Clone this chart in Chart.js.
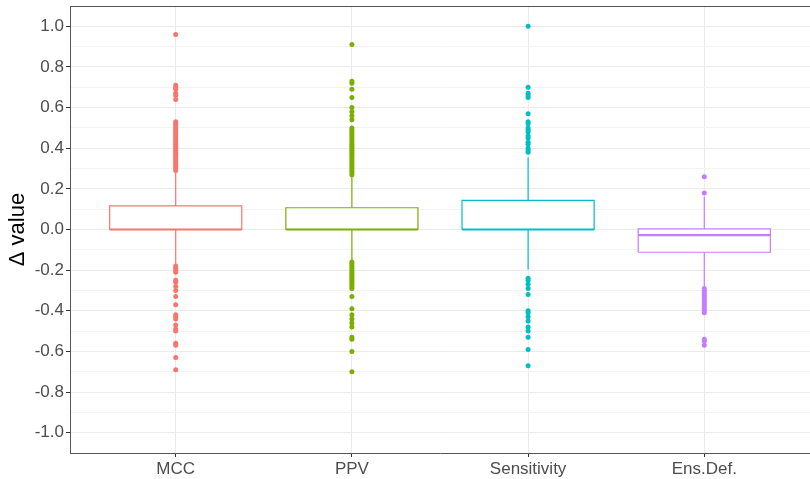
<!DOCTYPE html>
<html>
<head>
<meta charset="utf-8">
<script src="https://cdn.jsdelivr.net/npm/chart.js@4/dist/chart.umd.min.js"></script>
<style>
  html, body { margin: 0; padding: 0; background: #ffffff; }
  #wrap { width: 810px; height: 479px; position: relative; }
</style>
</head>
<body>
<div id="wrap"><canvas id="box_canvas"></canvas></div>
<script>
// categories and box statistics
const categories = ['MCC', 'PPV', 'Sensitivity', 'Ens.Def.'];
const colors = ['#F8766D', '#7CAE00', '#00BFC4', '#C77CFF'];

const boxQ1 = [0.0, 0.0, 0.0, -0.112];
const boxMedian = [0.0, 0.0, 0.0, -0.028];
const boxQ3 = [0.116, 0.107, 0.143, 0.003];
const whiskerLow = [-0.172, -0.156, -0.197, -0.285];
const whiskerHigh = [0.287, 0.265, 0.355, 0.161];

const mccOutliers = [0.96, 0.71, 0.70, 0.69, 0.67, 0.66, 0.64, 0.53, 0.52, 0.51,
  0.50, 0.49, 0.48, 0.47, 0.46, 0.45, 0.44, 0.43, 0.42, 0.41, 0.40, 0.39, 0.38,
  0.37, 0.36, 0.35, 0.34, 0.33, 0.32, 0.31, 0.30, 0.29,
  -0.18, -0.19, -0.20, -0.21, -0.25, -0.26, -0.28, -0.30, -0.33, -0.37, -0.42,
  -0.43, -0.44, -0.47, -0.49, -0.50, -0.56, -0.57, -0.63, -0.69];
const ppvOutliers = [0.91, 0.73, 0.72, 0.69, 0.65, 0.60, 0.58, 0.56, 0.54, 0.50,
  0.49, 0.48, 0.47, 0.46, 0.45, 0.44, 0.43, 0.42, 0.41, 0.40, 0.39, 0.38, 0.37,
  0.36, 0.35, 0.34, 0.33, 0.32, 0.31, 0.30, 0.29, 0.28, 0.27,
  -0.16, -0.17, -0.18, -0.19, -0.20, -0.21, -0.22, -0.23, -0.24, -0.25, -0.26,
  -0.27, -0.28, -0.29, -0.33, -0.39, -0.42, -0.44, -0.46, -0.48, -0.53, -0.54,
  -0.60, -0.70];
const sensOutliers = [1.00, 0.70, 0.67, 0.66, 0.65, 0.57, 0.53, 0.52, 0.50, 0.49,
  0.48, 0.46, 0.45, 0.43, 0.42, 0.40, 0.39, 0.38,
  -0.24, -0.25, -0.27, -0.29, -0.32, -0.40, -0.41, -0.43, -0.45, -0.48, -0.50,
  -0.53, -0.59, -0.67];
const ensOutliers = [0.26, 0.18, -0.29, -0.30, -0.31, -0.32, -0.33, -0.34, -0.35,
  -0.36, -0.37, -0.38, -0.39, -0.40, -0.41, -0.54, -0.55, -0.57];
const outliers = [mccOutliers, ppvOutliers, sensOutliers, ensOutliers];

const yMajorTicks = [-1.0, -0.8, -0.6, -0.4, -0.2, 0.0, 0.2, 0.4, 0.6, 0.8, 1.0];
const yMinorTicks = [-0.9, -0.7, -0.5, -0.3, -0.1, 0.1, 0.3, 0.5, 0.7, 0.9];
const yTitle = 'Δ value';

const BOX_HALF = 0.375;

function build_datasets() {
  const datasets = [];
  categories.forEach((name, i) => {
    const x = i + 1;
    datasets.push({
      label: name + ' whisker',
      data: [{x: x, y: whiskerLow[i]}, {x: x, y: whiskerHigh[i]}],
      showLine: true, pointRadius: 0, borderColor: colors[i], borderWidth: 1.2,
      order: 4
    });
    datasets.push({
      label: name + ' box',
      data: [
        {x: x - BOX_HALF, y: boxQ1[i]}, {x: x + BOX_HALF, y: boxQ1[i]},
        {x: x + BOX_HALF, y: boxQ3[i]}, {x: x - BOX_HALF, y: boxQ3[i]},
        {x: x - BOX_HALF, y: boxQ1[i]}
      ],
      showLine: true, pointRadius: 0, borderColor: colors[i], borderWidth: 1.2,
      fill: 'shape', backgroundColor: '#ffffff', order: 3
    });
    datasets.push({
      label: name + ' median',
      data: [{x: x - BOX_HALF, y: boxMedian[i]}, {x: x + BOX_HALF, y: boxMedian[i]}],
      showLine: true, pointRadius: 0, borderColor: colors[i], borderWidth: 2.2,
      order: 2
    });
    datasets.push({
      label: name + ' outliers',
      data: outliers[i].map(v => ({x: x, y: v})),
      pointRadius: 2.5, borderWidth: 0, backgroundColor: colors[i],
      order: 1
    });
  });
  return datasets;
}

const is_major = v => yMajorTicks.some(m => Math.abs(m - v) < 1e-6);

const topBorder = {
  id: 'topBorder',
  afterDraw(chart) {
    const {ctx, chartArea} = chart;
    ctx.save();
    ctx.strokeStyle = '#555555';
    ctx.lineWidth = 1;
    ctx.beginPath();
    ctx.moveTo(chartArea.left, chartArea.top + 0.5);
    ctx.lineTo(chartArea.right, chartArea.top + 0.5);
    ctx.stroke();
    ctx.restore();
  }
};

new Chart(document.getElementById('box_canvas'), {
  type: 'scatter',
  data: { datasets: build_datasets() },
  options: {
    responsive: true,
    maintainAspectRatio: false,
    animation: false,
    layout: { autoPadding: false, padding: { top: 6, right: 0, left: 0, bottom: 0 } },
    plugins: { legend: { display: false }, tooltip: { enabled: false } },
    scales: {
      x: {
        type: 'linear', min: 0.4, max: 4.6,
        afterBuildTicks: axis => { axis.ticks = categories.map((c, i) => ({value: i + 1})); },
        afterFit: scale => { scale.height = 26; scale.paddingLeft = 0; scale.paddingRight = 0; },
        ticks: {
          callback: v => categories[Math.round(v) - 1],
          font: { family: 'Liberation Sans, Arial, sans-serif', size: 17 },
          color: '#4D4D4D', padding: 2, maxRotation: 0, autoSkip: false
        },
        grid: { color: '#EBEBEB', lineWidth: 1, tickLength: 4, tickColor: '#333333' },
        border: { display: true, color: '#555555', width: 1 }
      },
      y: {
        min: -1.1, max: 1.1,
        afterBuildTicks: axis => {
          axis.ticks = yMajorTicks.concat(yMinorTicks).sort((a, b) => a - b).map(v => ({value: v}));
        },
        afterFit: scale => { scale.width = 70; scale.paddingTop = 0; scale.paddingBottom = 0; },
        ticks: {
          callback: v => is_major(v) ? v.toFixed(1) : '',
          font: { family: 'Liberation Sans, Arial, sans-serif', size: 17 },
          color: '#4D4D4D', padding: 2, autoSkip: false
        },
        grid: {
          color: ctx => is_major(ctx.tick.value) ? '#EBEBEB' : '#F3F3F3',
          tickColor: ctx => is_major(ctx.tick.value) ? '#333333' : 'rgba(0,0,0,0)',
          lineWidth: 1, tickLength: 4
        },
        border: { display: true, color: '#555555', width: 1 },
        title: {
          display: true, text: yTitle, color: '#000000',
          font: { family: 'Liberation Sans, Arial, sans-serif', size: 22 },
          padding: { top: 5, bottom: 0 }
        }
      }
    }
  },
  plugins: [topBorder]
});
</script>
</body>
</html>
